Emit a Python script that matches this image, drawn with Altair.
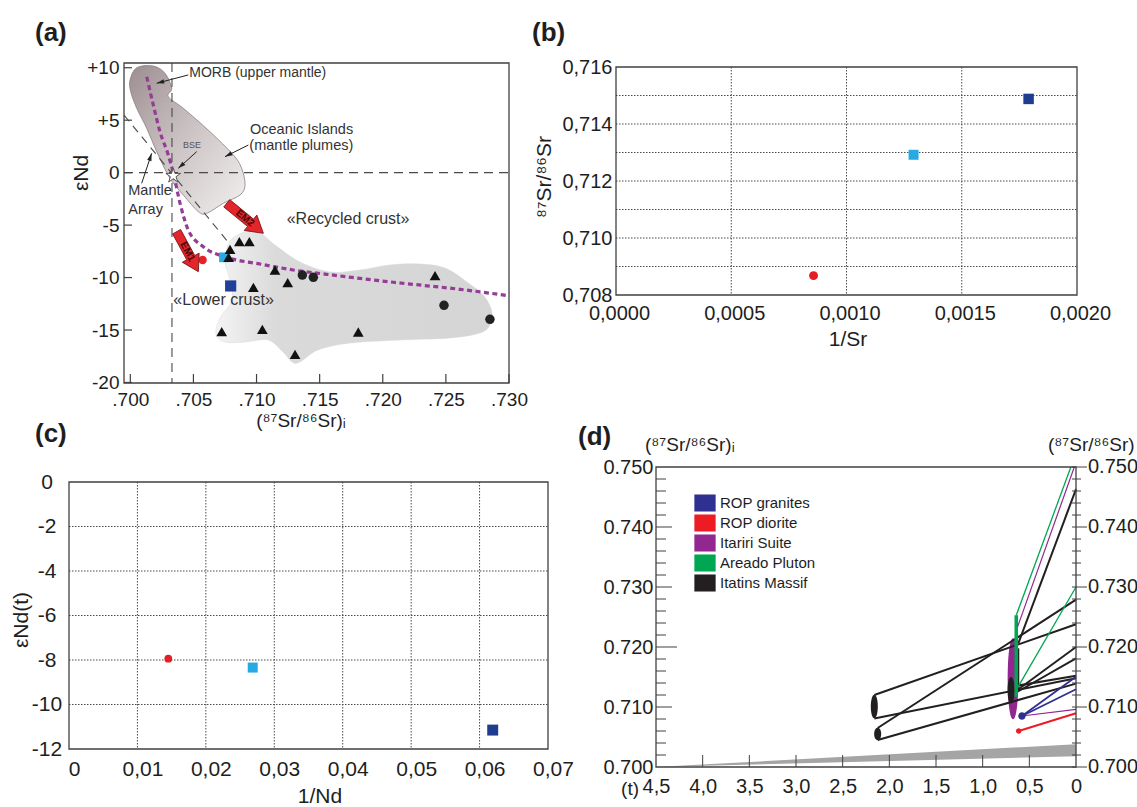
import math
import altair as alt
import pandas as pd

FONT = "Liberation Sans"
INK = "#1e1e1e"
FRAME = "#404040"
W, H = 1137, 807

# ======================= Panel (a) data =======================
a_x_ticks = [0.700, 0.705, 0.710, 0.715, 0.720, 0.725, 0.730]
a_y_ticks = [-20, -15, -10, -5, 0, 5, 10]
a_x_domain = [0.6995, 0.7300]
a_y_domain = [-20.05, 10.45]

a_tri_sr = [0.70864, 0.70943, 0.70790, 0.70779, 0.71146, 0.71247, 0.70975, 0.72414, 0.70724, 0.71046, 0.71305, 0.71806]
a_tri_nd = [-6.58, -6.58, -7.31, -8.07, -9.28, -10.49, -10.93, -9.82, -15.16, -14.93, -17.32, -15.19]
a_dot_sr = [0.71363, 0.71450, 0.72485, 0.72849]
a_dot_nd = [-9.76, -9.98, -12.65, -13.98]
a_smp_sr = [0.70742, 0.70573, 0.70795]
a_smp_nd = [-8.07, -8.33, -10.80]
a_smp_shape = ["square", "circle", "square"]
a_smp_color = ["#29abe2", "#e8202a", "#21409a"]
a_smp_size = [95, 70, 125]

a_morb_sr = [0.69998, 0.70051, 0.70182, 0.70275, 0.70328, 0.70301, 0.70420, 0.70631, 0.70816, 0.70882, 0.70909,
             0.70869, 0.70737, 0.70605, 0.70539, 0.70420, 0.70314, 0.70209, 0.70130, 0.70051, 0.70003]
a_morb_nd = [8.83, 10.00, 10.16, 9.47, 8.04, 7.24, 6.13, 3.90, 1.68, 0.41, -1.18,
             -2.13, -2.92, -3.88, -3.72, -2.13, -0.54, 2.00, 4.23, 6.13, 7.71]
a_crust_sr = [0.70837, 0.70988, 0.71146, 0.71344, 0.71582, 0.71820, 0.72057, 0.72295, 0.72493, 0.72667,
              0.72802, 0.72865, 0.72849, 0.72770, 0.72533, 0.72136, 0.71740, 0.71487, 0.71344, 0.71281,
              0.71210, 0.71091, 0.70909, 0.70750, 0.70679, 0.70711, 0.70806, 0.70790, 0.70750, 0.70774]
a_crust_nd = [-6.04, -5.47, -6.90, -8.52, -9.47, -9.28, -8.80, -8.71, -9.09, -10.42,
              -11.76, -13.28, -14.52, -15.28, -15.76, -15.95, -16.24, -16.90, -18.05, -18.05,
              -17.10, -15.95, -16.14, -16.14, -15.38, -13.85, -12.14, -10.23, -8.52, -6.90]
a_mix_sr = [0.70130, 0.70182, 0.70235, 0.70301, 0.70341, 0.70394, 0.70459, 0.70578, 0.70764, 0.71027,
            0.71291, 0.71556, 0.72083, 0.72612, 0.72994]
a_mix_nd = [9.14, 6.45, 3.90, 1.68, -0.06, -2.92, -5.47, -7.06, -8.07, -8.71,
            -9.28, -9.69, -10.45, -11.12, -11.73]
a_bse_line_sr = 0.7033
a_bse_star = (0.7034, -0.3)
a_array_sr = [0.6995, 0.70774]
a_array_nd = [5.49, -6.61]
a_arrow_x1 = [0.70459, 0.70935, 0.70526, 0.70090]
a_arrow_y1 = [9.31, 2.63, 2.00, -1.02]
a_arrow_x2 = [0.70209, 0.70750, 0.70380, 0.70169]
a_arrow_y2 = [8.52, 1.52, 0.41, 1.84]
a_em_names = ["EM1", "EM2"]
a_em_x1 = [0.70367, 0.70764]
a_em_y1 = [-5.63, -2.92]
a_em_x2 = [0.70539, 0.71054]
a_em_y2 = [-9.44, -5.78]
a_txt = ["MORB (upper mantle)", "Oceanic Islands", "(mantle plumes)", "Mantle", "Array",
         "«Recycled crust»", "«Lower crust»"]
a_txt_sr = [0.70467, 0.70948, 0.70943, 0.69984, 0.69984, 0.71239, 0.70341]
a_txt_nd = [9.47, 4.06, 2.54, -1.75, -3.56, -4.45, -12.14]
a_txt_fs = [14, 14.5, 14.5, 14.5, 14.5, 16, 16]

# ======================= Panel (b) data =======================
b_x_grid = [0.0, 0.0005, 0.0010, 0.0015, 0.0020]
b_y_grid = [0.708, 0.709, 0.710, 0.711, 0.712, 0.713, 0.714, 0.715, 0.716]
b_inv_sr = [0.000857, 0.001291, 0.001790]
b_sr = [0.70868, 0.71292, 0.71488]
b_shape = ["circle", "square", "square"]
b_color = ["#e31e24", "#27aae1", "#1f3d8f"]
b_size = [80, 100, 110]

# ======================= Panel (c) data =======================
c_x_grid = [0.0, 0.01, 0.02, 0.03, 0.04, 0.05, 0.06, 0.07]
c_y_grid = [-12, -10, -8, -6, -4, -2, 0]
c_inv_nd = [0.01451, 0.02685, 0.06192]
c_end = [-7.94, -8.34, -11.15]
c_shape = ["circle", "square", "square"]
c_color = ["#e31e24", "#27aae1", "#1f3d8f"]
c_size = [60, 100, 120]

# ======================= Panel (d) data =======================
d_groups = ["ROP granites", "ROP diorite", "Itariri Suite", "Areado Pluton", "Itatins Massif"]
d_colors = ["#2e3192", "#ed1c24", "#92278f", "#00a651", "#231f20"]
d_t_ticks = [4.5, 4.0, 3.5, 3.0, 2.5, 2.0, 1.5, 1.0, 0.5, 0.0]
d_t_inner = [4.0, 3.5, 3.0, 2.5, 2.0, 1.5, 1.0, 0.5]
d_major = [0.700, 0.710, 0.720, 0.730, 0.740, 0.750]
d_major_lab = ["0.700", "0.710", "0.720", "0.730", "0.740", "0.750"]
d_minor = [0.702, 0.704, 0.706, 0.708, 0.712, 0.714, 0.716, 0.718, 0.722, 0.724,
           0.726, 0.728, 0.732, 0.734, 0.736, 0.738, 0.742, 0.744, 0.746, 0.748]
d_band_t = [4.5, 0.0]
d_band_top = [0.7000, 0.7038]
d_band_bot = [0.7000, 0.7018]
d_seg_group = ["Itatins Massif"] * 9 + ["Areado Pluton"] * 3 + ["Itariri Suite"] * 2 + ["ROP granites"] * 2 + ["ROP diorite"]
d_seg_t1 = [2.161, 2.161, 2.125, 2.125, 0.618, 0.632, 0.632, 0.650, 0.625, 0.640, 0.640, 0.630, 0.625, 0.579, 0.579, 0.579, 0.614]
d_seg_s1 = [0.7120, 0.7081, 0.7065, 0.7045, 0.7206, 0.7128, 0.7125, 0.7135, 0.71255, 0.7117, 0.7253, 0.7131, 0.7234, 0.7085, 0.7085, 0.7085, 0.7060]
d_seg_t2 = [0.0, 0.0, 0.0, 0.0, 0.0, 0.0, 0.0, 0.0, 0.625, 0.640, 0.055, 0.0, 0.018, 0.0, 0.0, 0.0, 0.0]
d_seg_s2 = [0.7238, 0.7148, 0.7279, 0.7139, 0.7463, 0.7200, 0.7181, 0.7152, 0.71978, 0.7253, 0.7500, 0.7300, 0.7500, 0.7096, 0.71505, 0.71295, 0.70895]
d_seg_w = [2.0, 2.0, 2.0, 2.0, 2.0, 2.0, 2.0, 2.0, 3.2, 3.6, 1.3, 1.3, 1.2, 1.2, 1.8, 1.8, 2.0]
d_ell_group = ["Itariri Suite", "Itatins Massif", "Itatins Massif", "Itatins Massif", "ROP granites", "ROP diorite"]
d_ell_t = [0.675, 2.161, 2.125, 0.696, 0.579, 0.614]
d_ell_sr = [0.7147, 0.7101, 0.7055, 0.7128, 0.7085, 0.7060]
d_ell_h = [81, 23.4, 12.3, 26.6, 7, 5]
d_ell_w = [10.7, 7, 7, 7, 7, 5]

# ======================= panel boxes (pixels: x0, x1, y0, y1) =======================
BA = (124, 509, 63, 383)
BB = (616, 1077, 67, 295)
BC = (69, 548, 482, 749)
BD = (656, 1076, 467, 767)


# ======================= helpers =======================
def ellipse_path(a):
    k = 4.0 * a / 3.0
    return f"M0,-1C{k:.3f},-1 {k:.3f},1 0,1C{-k:.3f},1 {-k:.3f},-1 0,-1Z"


STAR = ("M0,-1L0.2245,-0.309L0.951,-0.309L0.363,0.118L0.588,0.809L0,0.382"
        "L-0.588,0.809L-0.363,0.118L-0.951,-0.309L-0.2245,-0.309Z")
HEAD = "M0,0L0.45,1.5L-0.45,1.5Z"
BLOCK = "M-0.2,-1L0.2,-1L0.2,0.3L0.42,0.3L0,1L-0.42,0.3L-0.2,0.3Z"
one = pd.DataFrame({"k": [0]})


def sx(dom, box, rev=False):
    rng = [box[1], box[0]] if rev else [box[0], box[1]]
    return alt.Scale(domain=dom, range=rng, nice=False, zero=False)


def sy(dom, box):
    return alt.Scale(domain=dom, range=[box[3], box[2]], nice=False, zero=False)


def ptext(txt, x, y, size, weight="normal", align="left", baseline="middle", color=INK, angle=0):
    return alt.Chart(pd.DataFrame({"t": [txt]})).mark_text(
        font=FONT, fontSize=size, fontWeight=weight, align=align, baseline=baseline, color=color, angle=angle
    ).encode(text="t:N", x=alt.value(x), y=alt.value(y))


def frame(box):
    return alt.Chart(one).mark_rect(fillOpacity=0, stroke=FRAME, strokeWidth=1.3).encode(
        x=alt.value(box[0]), x2=alt.value(box[1]), y=alt.value(box[2]), y2=alt.value(box[3]))


def vgrid(vals, scale, box):
    return alt.Chart(pd.DataFrame({"v": vals})).mark_rule(color="#4a4a4a", strokeWidth=1, strokeDash=[1.5, 1.5]).encode(
        x=alt.X("v:Q", scale=scale, axis=None), y=alt.value(box[2]), y2=alt.value(box[3]))


def hgrid(vals, scale, box):
    return alt.Chart(pd.DataFrame({"v": vals})).mark_rule(color="#4a4a4a", strokeWidth=1, strokeDash=[1.5, 1.5]).encode(
        y=alt.Y("v:Q", scale=scale, axis=None), x=alt.value(box[0]), x2=alt.value(box[1]))


def axis_common(**kw):
    base = dict(ticks=False, domain=False, grid=False, labelFlush=False, labelOverlap=False, title=None,
                labelFont=FONT, labelColor=INK)
    base.update(kw)
    return alt.Axis(**base)


layers = []

# ======================= Panel (a) =======================
xa = sx(a_x_domain, BA)
ya = sy(a_y_domain, BA)
kx = (BA[1] - BA[0]) / (a_x_domain[1] - a_x_domain[0])
ky = (BA[3] - BA[2]) / (a_y_domain[1] - a_y_domain[0])


def XA(f, axis=None):
    return alt.X(f"{f}:Q", scale=xa, axis=axis)


def YA(f, axis=None):
    return alt.Y(f"{f}:Q", scale=ya, axis=axis)


axis_ax = axis_common(orient="bottom", offset=BA[3] - H, values=a_x_ticks,
                      labelExpr="replace(format(datum.value, '.3f'), '0.', '.')", labelPadding=7, labelFontSize=19)
axis_ay = axis_common(orient="left", offset=-BA[0], values=a_y_ticks,
                      labelExpr="datum.value > 0 ? '+' + datum.value : '' + datum.value", labelPadding=5,
                      labelFontSize=19)

layers.append(alt.Chart(pd.DataFrame({"sr": a_crust_sr, "nd": a_crust_nd, "i": list(range(len(a_crust_sr)))})).mark_line(
    interpolate="cardinal-closed", stroke="#d6d6d6", strokeWidth=0.5,
    fill={"gradient": "linear", "x1": 0, "y1": 0, "x2": 1, "y2": 0,
          "stops": [{"offset": 0, "color": "#f4f4f4"}, {"offset": 0.22, "color": "#dadada"},
                    {"offset": 1, "color": "#d5d5d5"}]}
).encode(x=XA("sr", axis_ax), y=YA("nd", axis_ay), order="i:Q"))

layers.append(alt.Chart(pd.DataFrame({"sr": a_morb_sr, "nd": a_morb_nd, "i": list(range(len(a_morb_sr)))})).mark_line(
    interpolate="cardinal-closed", stroke="#8a7f80", strokeWidth=0.8,
    fill={"gradient": "linear", "x1": 0, "y1": 0, "x2": 1, "y2": 1,
          "stops": [{"offset": 0, "color": "#9c8e91"}, {"offset": 0.45, "color": "#c9c0c1"},
                    {"offset": 1, "color": "#f2f0f0"}]}
).encode(x=XA("sr"), y=YA("nd"), order="i:Q"))

layers.append(alt.Chart(pd.DataFrame({"sr": [a_bse_line_sr]})).mark_rule(
    strokeDash=[9, 6], color="#4a4a4a", strokeWidth=1.1).encode(
    x=XA("sr"), y=alt.value(BA[2]), y2=alt.value(BA[3])))
layers.append(alt.Chart(pd.DataFrame({"nd": [0]})).mark_rule(
    strokeDash=[9, 6], color="#4a4a4a", strokeWidth=1.1).encode(
    y=YA("nd"), x=alt.value(BA[0]), x2=alt.value(BA[1])))
layers.append(alt.Chart(pd.DataFrame({"sr": a_array_sr, "nd": a_array_nd})).mark_line(
    strokeDash=[8, 6], color="#4a4a4a", strokeWidth=1.1).encode(x=XA("sr"), y=YA("nd")))
layers.append(alt.Chart(pd.DataFrame({"sr": a_mix_sr, "nd": a_mix_nd})).mark_line(
    interpolate="monotone", strokeDash=[5, 3.5], color="#943c96", strokeWidth=3.2).encode(x=XA("sr"), y=YA("nd")))

layers.append(alt.Chart(pd.DataFrame({"v": a_y_ticks})).mark_rule(color=FRAME, strokeWidth=1.2).encode(
    y=YA("v"), x=alt.value(BA[0]), x2=alt.value(BA[0] + 8)))
layers.append(alt.Chart(pd.DataFrame({"v": a_x_ticks})).mark_rule(color=FRAME, strokeWidth=1.2).encode(
    x=XA("v"), y=alt.value(BA[3]), y2=alt.value(BA[3] - 9)))

layers.append(alt.Chart(pd.DataFrame({"sr": a_smp_sr, "nd": a_smp_nd, "shape": a_smp_shape, "col": a_smp_color,
                                      "s": a_smp_size})).mark_point(filled=True, opacity=1).encode(
    x=XA("sr"), y=YA("nd"), shape=alt.Shape("shape:N", scale=None), color=alt.Color("col:N", scale=None),
    size=alt.Size("s:Q", scale=None)))
layers.append(alt.Chart(pd.DataFrame({"sr": a_tri_sr, "nd": a_tri_nd})).mark_point(
    shape="triangle-up", filled=True, color="#111111", size=115, opacity=1).encode(x=XA("sr"), y=YA("nd")))
layers.append(alt.Chart(pd.DataFrame({"sr": a_dot_sr, "nd": a_dot_nd})).mark_point(
    shape="circle", filled=True, color="#222222", size=90, opacity=1).encode(x=XA("sr"), y=YA("nd")))
layers.append(alt.Chart(pd.DataFrame({"sr": [a_bse_star[0]], "nd": [a_bse_star[1]]})).mark_point(
    shape=STAR, filled=True, fill="white", stroke="#555555", strokeWidth=1, size=240, opacity=1).encode(
    x=XA("sr"), y=YA("nd")))

arr_df = pd.DataFrame({"x1": a_arrow_x1, "y1": a_arrow_y1, "x2": a_arrow_x2, "y2": a_arrow_y2})
arr_df["ang"] = [(math.degrees(math.atan2((x2 - x1) * kx, (y2 - y1) * ky)) + 360) % 360
                 for x1, y1, x2, y2 in zip(a_arrow_x1, a_arrow_y1, a_arrow_x2, a_arrow_y2)]
layers.append(alt.Chart(arr_df).mark_rule(color="#222222", strokeWidth=1).encode(
    x=XA("x1"), y=YA("y1"), x2="x2:Q", y2="y2:Q"))
layers.append(alt.Chart(arr_df).mark_point(shape=HEAD, filled=True, color="#222222", size=100, opacity=1).encode(
    x=XA("x2"), y=YA("y2"), angle=alt.Angle("ang:Q", scale=None)))

em_df = pd.DataFrame({"name": a_em_names, "x1": a_em_x1, "y1": a_em_y1, "x2": a_em_x2, "y2": a_em_y2})
em_df["cx"] = (em_df["x1"] + em_df["x2"]) / 2
em_df["cy"] = (em_df["y1"] + em_df["y2"]) / 2
em_df["ang"] = [(math.degrees(math.atan2(-(x2 - x1) * kx, -(y2 - y1) * ky)) + 360) % 360
                for x1, y1, x2, y2 in zip(a_em_x1, a_em_y1, a_em_x2, a_em_y2)]
em_df["tang"] = [(math.degrees(math.atan2(-(y2 - y1) * ky, (x2 - x1) * kx)) + 360) % 360
                 for x1, y1, x2, y2 in zip(a_em_x1, a_em_y1, a_em_x2, a_em_y2)]
em_px = [math.hypot((x2 - x1) * kx, (y2 - y1) * ky) for x1, y1, x2, y2 in zip(a_em_x1, a_em_y1, a_em_x2, a_em_y2)]
em_df["s"] = [p * p for p in em_px]
layers.append(alt.Chart(em_df).mark_point(shape=BLOCK, filled=True, fill="#e2262b", stroke="#7a1515",
                                          strokeWidth=0.8, opacity=1).encode(
    x=XA("cx"), y=YA("cy"), angle=alt.Angle("ang:Q", scale=None), size=alt.Size("s:Q", scale=None)))
layers.append(alt.Chart(em_df).mark_text(font=FONT, fontSize=10, fontWeight="bold", color="#4a0808",
                                         baseline="middle", align="center").encode(
    x=XA("cx"), y=YA("cy"), text="name:N", angle=alt.Angle("tang:Q", scale=None)))

layers.append(alt.Chart(pd.DataFrame({"t": a_txt, "sr": a_txt_sr, "nd": a_txt_nd, "fs": a_txt_fs})).mark_text(
    font=FONT, align="left", baseline="middle", color="#333333").encode(
    x=XA("sr"), y=YA("nd"), text="t:N", size=alt.Size("fs:Q", scale=None)))
layers.append(alt.Chart(pd.DataFrame({"t": ["BSE"], "sr": [0.70489], "nd": [2.63]})).mark_text(
    font=FONT, fontSize=9, align="center", baseline="middle", color="#555555").encode(
    x=XA("sr"), y=YA("nd"), text="t:N"))
layers.append(frame(BA))
layers += [
    ptext("(a)", 35, 33, 26, weight="bold"),
    ptext("εNd", 82, 173, 21, align="center", angle=270),
    ptext("(⁸⁷Sr/⁸⁶Sr)ᵢ", 301, 421, 19, align="center"),
]

# ======================= Panel (b) =======================
xb = sx([0, 0.002], BB)
yb = sy([0.708, 0.716], BB)
axis_bx = axis_common(orient="bottom", offset=BB[3] - H, values=b_x_grid,
                      labelExpr="replace(format(datum.value, '.4f'), '.', ',')", labelPadding=8, labelFontSize=20,
                      labelOffset=3)
axis_by = axis_common(orient="left", offset=-BB[0], values=b_y_grid,
                      labelExpr="round(datum.value * 1000) % 2 == 0 ? replace(format(datum.value, '.3f'), '.', ',') : ''",
                      labelPadding=4, labelFontSize=20)
layers.append(vgrid(b_x_grid[1:-1], xb, BB))
layers.append(hgrid(b_y_grid[1:-1], yb, BB))
layers.append(alt.Chart(pd.DataFrame({"x": b_inv_sr, "y": b_sr, "shape": b_shape, "col": b_color, "s": b_size})).mark_point(
    filled=True, opacity=1).encode(
    x=alt.X("x:Q", scale=xb, axis=axis_bx), y=alt.Y("y:Q", scale=yb, axis=axis_by),
    shape=alt.Shape("shape:N", scale=None), color=alt.Color("col:N", scale=None), size=alt.Size("s:Q", scale=None)))
layers.append(frame(BB))
layers += [
    ptext("(b)", 532, 33, 26, weight="bold"),
    ptext("⁸⁷Sr/⁸⁶Sr", 545, 177, 21, align="center", angle=270),
    ptext("1/Sr", 848, 340, 21, align="center"),
]

# ======================= Panel (c) =======================
xc = sx([0, 0.07], BC)
yc = sy([-12, 0], BC)
axis_cx = axis_common(orient="bottom", offset=BC[3] - H, values=c_x_grid,
                      labelExpr="datum.value == 0 ? '0' : replace(format(datum.value, '.2f'), '.', ',')",
                      labelPadding=9, labelFontSize=21, labelOffset=5)
axis_cy = axis_common(orient="left", offset=-BC[0], values=c_y_grid, labelExpr="'' + datum.value",
                      labelPadding=22.5, labelAlign="center", labelFontSize=21)
layers.append(vgrid(c_x_grid[1:-1], xc, BC))
layers.append(hgrid(c_y_grid[1:-1], yc, BC))
layers.append(alt.Chart(pd.DataFrame({"x": c_inv_nd, "y": c_end, "shape": c_shape, "col": c_color, "s": c_size})).mark_point(
    filled=True, opacity=1).encode(
    x=alt.X("x:Q", scale=xc, axis=axis_cx), y=alt.Y("y:Q", scale=yc, axis=axis_cy),
    shape=alt.Shape("shape:N", scale=None), color=alt.Color("col:N", scale=None), size=alt.Size("s:Q", scale=None)))
layers.append(frame(BC))
layers += [
    ptext("(c)", 35, 434, 26, weight="bold"),
    ptext("εNd(t)", 22, 620, 21, align="center", angle=270),
    ptext("1/Nd", 320, 797, 21, align="center"),
]

# ======================= Panel (d) =======================
xd = sx([0, 4.5], BD, rev=True)
yd = sy([0.700, 0.750], BD)
axis_dx = axis_common(orient="bottom", offset=BD[3] - H, values=d_t_ticks,
                      labelExpr="datum.value == 0 ? '0' : replace(format(datum.value, '.1f'), '.', ',')",
                      labelPadding=9, labelFontSize=20)
axis_dy = axis_common(orient="left", offset=-BD[0], values=d_major, format=".3f", labelPadding=3, labelFontSize=20)


def XD(f, axis=None):
    return alt.X(f"{f}:Q", scale=xd, axis=axis)


def YD(f, axis=None):
    return alt.Y(f"{f}:Q", scale=yd, axis=axis)


layers.append(alt.Chart(pd.DataFrame({"t": d_band_t, "top": d_band_top, "bot": d_band_bot})).mark_area(
    color="#a5a5a5", opacity=1).encode(x=XD("t", axis_dx), y=YD("top", axis_dy), y2="bot:Q"))

ell_df = pd.DataFrame({"group": d_ell_group, "t": d_ell_t, "sr": d_ell_sr})
ell_df["shape"] = [ellipse_path(w / h) for w, h in zip(d_ell_w, d_ell_h)]
ell_df["s"] = [h * h for h in d_ell_h]
fill_scale = alt.Scale(domain=d_groups, range=d_colors)
layers.append(alt.Chart(ell_df).mark_point(filled=True, opacity=1, strokeWidth=0).encode(
    x=XD("t"), y=YD("sr"),
    fill=alt.Fill("group:N", scale=fill_scale,
                  legend=alt.Legend(orient="none", legendX=BD[0] + 40, legendY=BD[2] + 27, title=None,
                                    symbolType="M-1.25,-1H1.25V1H-1.25Z", symbolSize=290,
                                    symbolStrokeWidth=0, symbolOpacity=1, labelFontSize=15, labelFont=FONT,
                                    labelColor=INK, rowPadding=2, labelOffset=6, padding=0)),
    shape=alt.Shape("shape:N", scale=None), size=alt.Size("s:Q", scale=None)))

rows = []
for k in range(len(d_seg_group)):
    rows.append({"seg": k, "i": 0, "t": d_seg_t1[k], "sr": d_seg_s1[k], "group": d_seg_group[k], "w": d_seg_w[k]})
    rows.append({"seg": k, "i": 1, "t": d_seg_t2[k], "sr": d_seg_s2[k], "group": d_seg_group[k], "w": d_seg_w[k]})
seg_df = pd.DataFrame(rows)
layers.append(alt.Chart(seg_df).mark_line(strokeCap="butt").encode(
    x=XD("t"), y=YD("sr"), detail="seg:N", order="i:Q",
    stroke=alt.Stroke("group:N", scale=alt.Scale(domain=d_groups, range=d_colors), legend=None),
    strokeWidth=alt.StrokeWidth("w:Q", scale=None)))
layers.append(alt.Chart(ell_df.iloc[4:]).mark_point(filled=True, opacity=1, strokeWidth=0).encode(
    x=XD("t"), y=YD("sr"), fill=alt.Fill("group:N", scale=fill_scale, legend=None),
    size=alt.Size("s:Q", scale=None), shape=alt.Shape("shape:N", scale=None)))


def drule(vals, xa0, xa1):
    return alt.Chart(pd.DataFrame({"v": vals})).mark_rule(color=FRAME, strokeWidth=1).encode(
        y=YD("v"), x=alt.value(xa0), x2=alt.value(xa1))


layers += [
    drule(d_minor, BD[0], BD[0] + 10),
    drule([0.710, 0.730, 0.740], BD[0], BD[0] + 16),
    drule([0.720], BD[0], BD[0] + 21),
    drule(d_minor, BD[1] - 4, BD[1] + 5),
    drule(d_major, BD[1] - 4, BD[1] + 11),
    alt.Chart(pd.DataFrame({"v": d_t_inner})).mark_rule(color=FRAME, strokeWidth=1).encode(
        x=XD("v"), y=alt.value(BD[3]), y2=alt.value(BD[3] - 12)),
    alt.Chart(pd.DataFrame({"v": d_major, "lab": d_major_lab})).mark_text(
        font=FONT, fontSize=20, align="left", baseline="middle", color=INK).encode(
        y=YD("v"), x=alt.value(BD[1] + 12), text="lab:N"),
    frame(BD),
    ptext("(t)", 639, 789, 19, align="right"),
    ptext("(⁸⁷Sr/⁸⁶Sr)ᵢ", 645, 445, 19),
    ptext("(⁸⁷Sr/⁸⁶Sr)", 1048, 445, 19),
    ptext("(d)", 578, 437, 26, weight="bold"),
]

chart = alt.layer(*layers).resolve_scale(x="independent", y="independent").properties(
    width=W, height=H, autosize=alt.AutoSizeParams(type="none"), padding=0, background="white"
).configure(font=FONT).configure_view(stroke=None)

chart.save("out.html", embed_options={"renderer": "svg", "actions": False})
